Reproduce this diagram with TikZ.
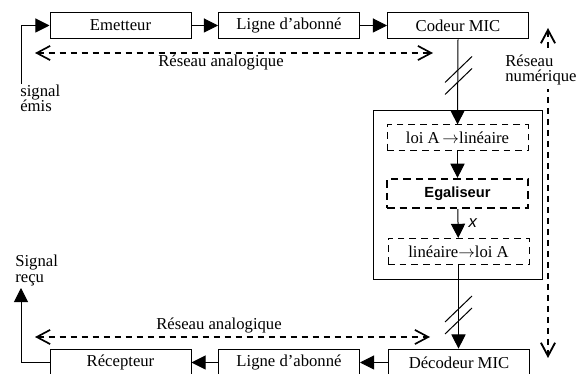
\documentclass[tikz,border=0pt]{standalone}
\usepackage{fontspec}
\setmainfont{Liberation Serif}
\setsansfont{Liberation Sans}
\usetikzlibrary{arrows.meta}
\tikzset{
  boite/.style={draw, line width=0.6pt, minimum width=84.6pt, minimum height=16pt, inner sep=0pt},
  sous/.style={draw, line width=0.6pt, dash pattern=on 4pt off 3pt, minimum width=84.6pt, minimum height=15.6pt, inner sep=0pt},
  fleche/.style={line width=0.6pt, -{Triangle[length=8.5pt,width=8.5pt]}},
  reseau/.style={line width=1pt, dash pattern=on 3.6pt off 3pt, {Straight Barb[length=8pt,width=8.5pt]}-{Straight Barb[length=8pt,width=8.5pt]}},
  deux/.style={align=left, inner sep=0pt, font=\fontsize{10}{9.3}\selectfont}
}
\begin{document}
\begin{tikzpicture}[x=0.6pt, y=-0.6pt]
\useasboundingbox (0,0) rectangle (582,374);
\node[boite] (emet) at (120.5,25.5) {Emetteur};
\node[boite] (ligne1) at (289,25.5) {Ligne d’abonné};
\node[boite] (codeur) at (458,25.5) {Codeur MIC};
\node[boite] (recep) at (120.5,362.5) {Récepteur};
\node[boite] (ligne2) at (289,362.5) {Ligne d’abonné};
\node[boite] (decod) at (459,362.5) {Décodeur MIC};
\node[draw, line width=0.6pt, minimum width=101.4pt, minimum height=101.4pt] (traitement) at (457.5,195.5) {};
\node[sous] (loi) at (457.5,138) {loi A$\,\rightarrow$linéaire};
\node[sous, line width=1.3pt, dash pattern=on 4.5pt off 3pt, minimum height=17.4pt, font=\sffamily\bfseries\fontsize{8.8}{10}\selectfont] (egal) at (457.5,193.5) {Egaliseur};
\node[sous] (lin) at (458.5,251.5) {linéaire$\rightarrow$loi A};
\coordinate (src) at (21,84);
\coordinate (dst) at (21,288);
\coordinate (coupe1) at (458.5,75.5);
\coordinate (coupe2) at (458.5,315);
\coordinate (an1g) at (35,53);
\coordinate (an1d) at (433,53);
\coordinate (an2g) at (35,337);
\coordinate (an2d) at (430,337);
\coordinate (num1) at (548,28);
\coordinate (num2) at (548,358);
\draw[fleche] (src) |- (emet.west);
\draw[fleche] (emet) -- (ligne1);
\draw[fleche] (ligne1) -- (codeur);
\draw[fleche] (codeur.south) -- (loi.north);
\draw[fleche] (loi) -- (egal);
\draw[fleche] (egal) -- node[right, inner sep=6pt, font=\sffamily\itshape\fontsize{10}{10}\selectfont] (xlab) {x} (lin);
\draw[fleche] (lin.south) -- (lin.south |- decod.north);
\draw[fleche] (decod) -- (ligne2);
\draw[fleche] (ligne2) -- (recep);
\draw[fleche] (recep.west) -| (dst);
\foreach \c in {coupe1,coupe2} {
\draw[line width=0.6pt] ([shift={(-13.5,7)}]\c) -- ++(27,-26);
\draw[line width=0.6pt] ([shift={(-13.5,19)}]\c) -- ++(27,-26);
}
\draw[reseau] (an1g) -- (an1d);
\draw[reseau] (an2g) -- (an2d);
\draw[reseau, line width=1.1pt] (num1) -- (num2);
\node[deux, anchor=north west] (emis) at (20,84.5) {signal\\émis};
\node[deux, anchor=south west] (recu) at (15,286) {Signal\\reçu};
\node (ana1) at (221,63) {Réseau analogique};
\node (ana2) at (219,326) {Réseau analogique};
\node[deux, anchor=north west, fill=white, inner ysep=2pt] (num) at (505,51) {Réseau\\numérique};
\end{tikzpicture}
\end{document}
